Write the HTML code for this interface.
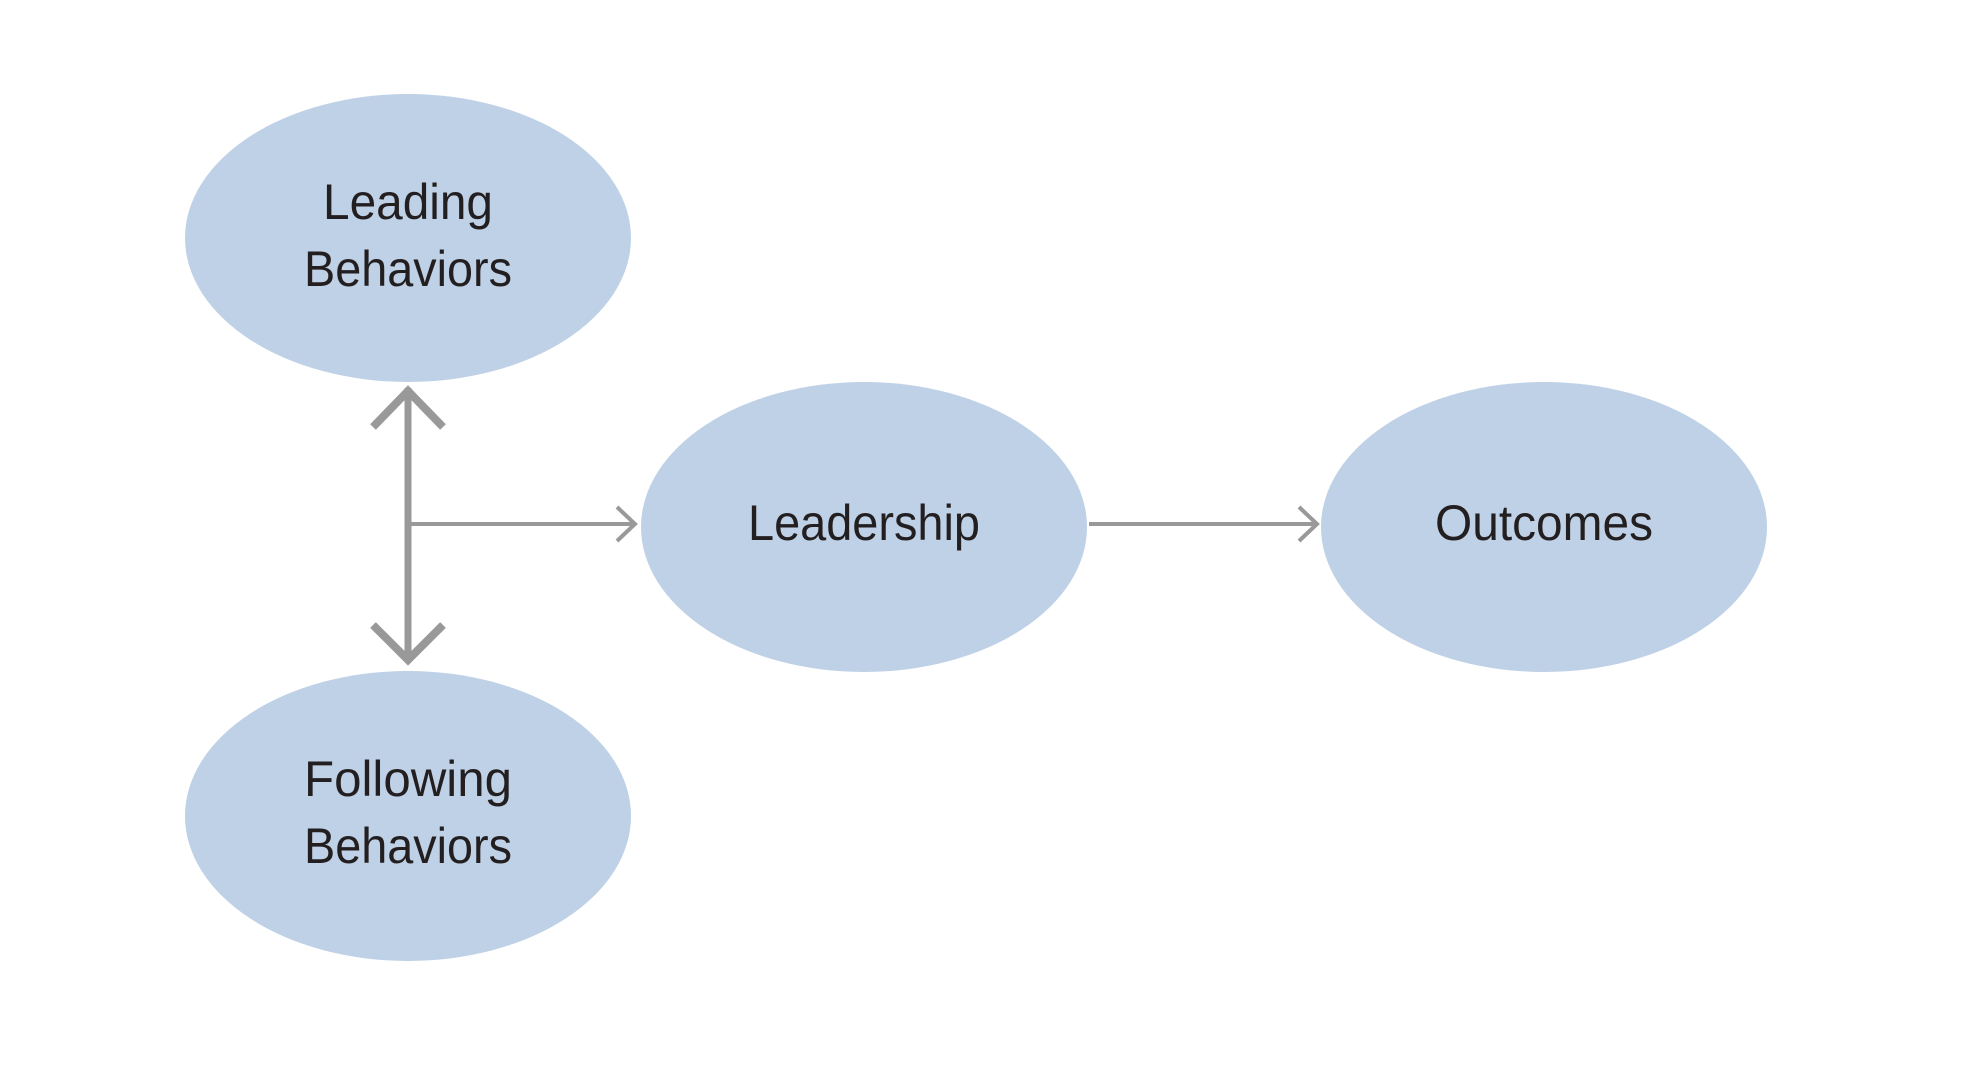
<!DOCTYPE html>
<html><head><meta charset="utf-8"><style>
html,body{margin:0;padding:0;background:#fff;}
svg{display:block;}
text{font-family:"Liberation Sans Narrow","Liberation Sans",sans-serif;font-size:50px;fill:#231f20;text-anchor:middle;}
</style></head><body>
<svg width="1968" height="1084" viewBox="0 0 1968 1084">
<g fill="#bfd1e6">
<ellipse cx="408" cy="238" rx="223" ry="144"/>
<ellipse cx="408" cy="816" rx="223" ry="145"/>
<ellipse cx="864" cy="527" rx="223" ry="145"/>
<ellipse cx="1544" cy="527" rx="223" ry="145"/>
</g>
<g stroke="#999" fill="none" stroke-linecap="butt">
<line x1="408" y1="388" x2="408" y2="660" stroke-width="7"/>
<polyline points="373,427 408,391 443,427" stroke-width="8"/>
<polyline points="373,625 408,660 443,625" stroke-width="8"/>
<line x1="410" y1="524" x2="634" y2="524" stroke-width="4"/>
<polyline points="617,507 635,524 617,541" stroke-width="4"/>
<line x1="1089" y1="524" x2="1316" y2="524" stroke-width="4"/>
<polyline points="1299,507 1317,524 1299,541" stroke-width="4"/>
</g>
<text x="408" y="219" textLength="170" lengthAdjust="spacingAndGlyphs">Leading</text>
<text x="408" y="286" textLength="208" lengthAdjust="spacingAndGlyphs">Behaviors</text>
<text x="408" y="796" textLength="208" lengthAdjust="spacingAndGlyphs">Following</text>
<text x="408" y="863" textLength="208" lengthAdjust="spacingAndGlyphs">Behaviors</text>
<text x="864" y="540" textLength="232" lengthAdjust="spacingAndGlyphs">Leadership</text>
<text x="1544" y="540" textLength="218" lengthAdjust="spacingAndGlyphs">Outcomes</text>
</svg>
</body></html>
